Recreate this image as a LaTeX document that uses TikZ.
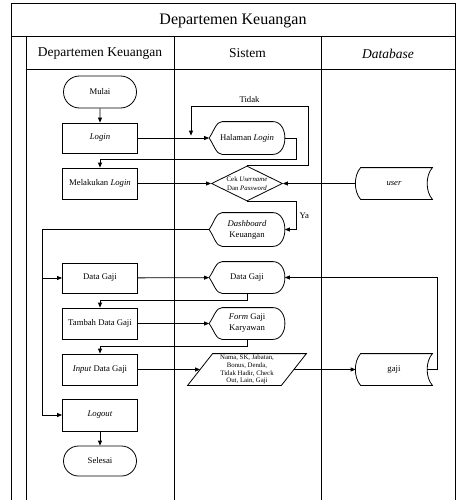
\documentclass[tikz,border=0pt]{standalone}
\usepackage{fontspec}
\setmainfont{Liberation Serif}
\usetikzlibrary{arrows.meta,shapes.geometric,shapes.misc}
\tikzset{
every picture/.style={
line width=0.8pt
}}

\begin{document}
\begin{tikzpicture}[x=1pt, y=-1pt, >={Triangle[length=5pt,width=4pt]},
font=\fontsize{8.7}{11}\selectfont,
block/.style = {rectangle, draw=black, align=center, minimum width=75pt, minimum height=31pt, inner sep=1pt},
term/.style = {rounded rectangle, draw=black, minimum width=75pt, minimum height=30pt, inner sep=1pt},
disp/.style = {align=center, minimum width=75pt, minimum height=32pt, inner sep=1pt},
store/.style = {minimum width=76pt, minimum height=31pt, inner sep=1pt},
decision/.style = {diamond, draw=black, aspect=2, minimum width=71pt, minimum height=35pt, inner sep=0pt, align=center, font=\fontsize{6.8}{8.5}\selectfont},
lane/.style = {line width=1pt}]
\useasboundingbox (0,0) rectangle (456,500);

% pool and lanes
\draw [lane] (11,500) -- (11,4) -- (455,4) -- (455,500);
\draw [lane] (11,37) -- (455,37);
\draw [lane] (26,70) -- (455,70);
\draw [lane] (26,37) -- (26,500);
\draw [lane] (174,37) -- (174,500);
\draw [lane] (321,37) -- (321,500);
\node at (233,20.5) (pool) {\fontsize{16}{18}\selectfont Departemen Keuangan};
\node at (100,53.5) (lk) {\fontsize{13.5}{16}\selectfont Departemen Keuangan};
\node at (247.5,53.5) (ls) {\fontsize{13.5}{16}\selectfont Sistem};
\node at (388,53.5) (ld) {\fontsize{13.5}{16}\selectfont \textit{Database}};

% departemen keuangan
\node [term, minimum height=32pt] at (100,92) (mulai) {Mulai};
\node [block, minimum height=30pt] at (100,138) (login) {\textit{Login}};
\node [block] at (100,183.5) (mel) {Melakukan \textit{Login}};
\node [block, minimum height=30pt] at (100,278) (dgaji) {Data Gaji};
\node [block] at (100,323.5) (tambah) {Tambah Data Gaji};
\node [block] at (100,369.5) (input) {\textit{Input} Data Gaji};
\node [block, minimum height=32pt] at (100,415) (logout) {\textit{Logout}};
\node [term] at (100,461) (selesai) {Selesai};

% sistem
\node [disp] at (247,138) (hal) {Halaman \textit{Login}};
\node [decision] at (247,183.5) (dec) {Cek \textit{Username}\\Dan \textit{Password}};
\node [disp, minimum height=33pt] at (247,229.5) (dash) {\textit{Dashboard}\\Keuangan};
\node [disp, minimum height=31pt] at (247,277.5) (dgs) {Data Gaji};
\node [disp, minimum height=31pt] at (247,323.5) (form) {\textit{Form} Gaji\\Karyawan};
\node [minimum width=93pt, minimum height=31pt, inner sep=0pt, align=center,
  font=\fontsize{6.8}{7.9}\selectfont] at (247,369.5) (par)
  {Nama, SK, Jabatan,\\Bonus, Denda,\\Tidak Hadir, Check\\Out, Lain, Gaji};

% database
\node [store] at (394,183.5) (user) {\textit{user}};
\node [store] at (394,369.5) (gaji) {gaji};

\foreach \n in {hal,dash,dgs,form}
  \draw (\n.west) .. controls +(5pt,7pt) and +(-6pt,0pt) .. ([xshift=13pt]\n.north west)
    -- ([xshift=-12pt]\n.north east) .. controls +(16pt,0pt) and +(16pt,0pt) .. ([xshift=-12pt]\n.south east)
    -- ([xshift=13pt]\n.south west) .. controls +(-6pt,0pt) and +(5pt,-7pt) .. (\n.west) -- cycle;
\foreach \n in {user,gaji}
  \draw ([xshift=5pt]\n.north west) -- (\n.north east) .. controls +(-7pt,-8pt) and +(-7pt,8pt) .. (\n.south east)
    -- ([xshift=5pt]\n.south west) .. controls +(-7pt,8pt) and +(-7pt,-8pt) .. ([xshift=5pt]\n.north west) -- cycle;
\draw ([xshift=12.5pt]par.north west) -- ([xshift=12.5pt]par.north east)
  -- ([xshift=-12.5pt]par.south east) -- ([xshift=-12.5pt]par.south west) -- cycle;

\coordinate (bus) at (42,229.5);

\draw [->] (mulai) -- (login);
\draw [->] (login) -- (hal);
\draw [->] (hal.east) -- ++(11,0) -- ++(0,21) -| (mel.north);
\draw [->] (dec.north) -- ++(61,0) -- ++(0,-59) -- node [above] {Tidak} ++(-117,0) -- ++(0,29);
\draw [->] (mel) -- (dec);
\draw [->] (user) -- (dec);
\draw [->] (dec.south) -- ++(49,0) |- node [near start, right] {Ya} (dash.east);
\draw [->] (dash.west) -- (bus) |- (logout.west);
\draw [->] (bus |- dgaji.west) -- (dgaji.west);
\draw [->] (dgaji) -- (dgs);
\draw [->] (dgs.south) -- ++(0,7) -| (tambah.north);
\draw [->] (tambah) -- (form);
\draw [->] (form.south) -- ++(0,7) -| (input.north);
\draw [->] (input) -- (par);
\draw [->] (par) -- (gaji);
\draw [->] ([xshift=-5pt]gaji.east) -- ++(10,0) |- (dgs.east);
\draw [->] (logout) -- (selesai);

\end{tikzpicture}
\end{document}
